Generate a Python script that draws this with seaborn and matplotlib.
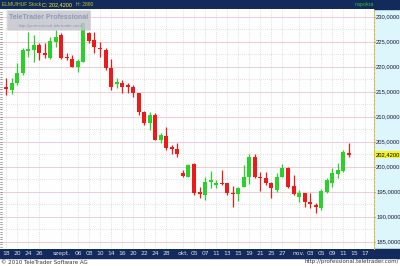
import numpy as np
import pandas as pd
import matplotlib
matplotlib.use("Agg")
import matplotlib.pyplot as plt
import seaborn as sns
from matplotlib.patches import Rectangle, FancyBboxPatch

# ---- data ----
opens = [215.9, 215.3, 216.8, 218.7, 223.2, 223.3, 224.3, 222.8, 221.7, 225.0,
         226.3, 222.0, 221.5, 219.9, 221.0, 226.7, 225.3, 223.8, 223.3, 219.7,
         216.5, 216.7, 216.3, 216.0, 214.7, 211.0, 208.7, 210.3, 205.3, 206.1,
         203.9, 203.5, 198.8, 198.0, 200.5, 195.0, 194.3, 197.0, 196.3, 196.8,
         196.7, 194.8, 194.5, 196.0, 198.0, 202.0, 198.0, 197.7, 196.8, 195.3,
         198.0, 199.7, 196.1, 194.0, 194.7, 193.0, 192.3, 191.7, 195.0, 196.8,
         198.5, 199.2, 202.8]
highs = [217.7, 217.8, 220.7, 223.7, 227.0, 226.3, 224.7, 224.8, 226.0, 227.3,
         226.8, 222.7, 222.3, 221.5, 229.0, 227.0, 227.0, 225.0, 223.7, 221.5,
         217.7, 217.3, 216.8, 216.3, 214.8, 211.1, 211.0, 210.7, 206.7, 208.0,
         204.3, 204.7, 199.3, 200.5, 200.8, 196.0, 198.0, 199.1, 197.3, 199.3,
         196.8, 196.1, 196.0, 200.3, 202.5, 202.5, 199.0, 199.0, 197.0, 198.7,
         200.5, 199.9, 198.3, 195.3, 194.8, 194.8, 192.8, 195.5, 197.7, 199.7,
         200.7, 203.3, 204.7]
lows = [214.3, 214.5, 216.3, 218.3, 222.0, 221.0, 221.3, 221.7, 221.5, 224.0,
        221.5, 221.3, 220.0, 219.0, 221.0, 224.7, 222.7, 222.0, 219.3, 215.3,
        215.7, 214.8, 214.7, 214.0, 210.3, 208.3, 207.3, 205.3, 204.8, 203.3,
        202.5, 202.0, 198.0, 198.0, 194.3, 193.7, 193.3, 195.8, 195.7, 196.3,
        194.3, 192.0, 193.2, 195.9, 196.5, 197.7, 195.2, 196.3, 193.7, 195.0,
        197.9, 195.7, 194.3, 193.0, 192.0, 191.7, 190.8, 191.3, 194.8, 196.0,
        197.7, 199.0, 201.9]
closes = [215.5, 216.8, 218.8, 223.3, 223.5, 224.3, 222.8, 222.3, 225.2, 226.0,
          221.7, 221.7, 220.0, 221.2, 228.7, 225.2, 224.0, 223.5, 219.7, 216.0,
          217.0, 216.0, 216.0, 214.8, 211.0, 208.7, 210.3, 205.3, 206.3, 203.7,
          203.5, 202.5, 198.1, 200.3, 194.8, 194.5, 197.0, 197.3, 196.8, 196.5,
          194.8, 194.5, 195.7, 198.0, 202.0, 198.0, 197.7, 196.8, 195.7, 198.0,
          199.7, 196.0, 194.5, 194.8, 193.0, 192.5, 192.0, 195.2, 197.3, 198.7,
          199.3, 203.0, 202.42]
tick_pos = [0, 2, 4, 6, 10, 13, 15, 17, 19, 21, 23, 25, 27, 29, 32, 34, 36, 38,
            40, 42, 44, 46, 48, 50, 53, 55, 57, 59, 61, 63, 65]
tick_labels = ["18", "20", "24", "26", "szept.", "06", "08", "10", "14", "16",
               "20", "22", "24", "28", "okt.", "05", "07", "11", "13", "15",
               "19", "21", "25", "27", "nov.", "03", "05", "09", "11", "15", "17"]
y_ticks = [185, 190, 195, 200, 205, 210, 215, 220, 225, 230]
last_price = 202.42

df = pd.DataFrame({"o": opens, "h": highs, "l": lows, "c": closes})
df["i"] = np.arange(len(df))
df["up"] = df["c"] >= df["o"]

sns.set_theme(style="white")
plt.rcParams["font.family"] = ["DejaVu Sans"]

W, H = 400, 266
fig = plt.figure(figsize=(4, 2.66), dpi=100)
fig.patch.set_facecolor("white")

def fx(px): return px / W
def fy(py): return 1 - py / H

ax_left, ax_right, ax_top, ax_bot = 0, 374, 9, 249
ax = fig.add_axes([fx(ax_left), fy(ax_bot), fx(ax_right - ax_left), (ax_bot - ax_top) / H])
ax.set_facecolor("#fdfefd")

# background decorations in figure coords (behind the axes)
fig.patches.append(Rectangle((fx(374), fy(249)), fx(26), (249 - 9) / H,
                             transform=fig.transFigure, color="#dcf6fb", zorder=-5))
fig.patches.append(Rectangle((0, fy(9)), 1, 9 / H, transform=fig.transFigure,
                             color="#132a5c", zorder=-5))
fig.patches.append(Rectangle((0, fy(258)), 1, 9 / H, transform=fig.transFigure,
                             color="#132a5c", zorder=-5))

ax.set_xlim(-1.085, 66.55)
ax.set_ylim(183.54, 231.54)

# grid
for v in np.arange(185, 231, 5):
    ax.axhline(v, color="#f0c4cc", lw=0.6, zorder=0)
for v in np.arange(187.5, 231, 5):
    ax.axhline(v, color="#c8c8c8", lw=0.5, ls=(0, (1, 2)), zorder=0)
for t in tick_pos:
    ax.axvline(t, color="#c4c4c4", lw=0.5, ls=(0, (1, 2)), zorder=0)

green, red = "#2bd12b", "#ee1a1a"
colors = np.where(df["up"], green, red)
ax.vlines(df["i"], df["l"], df["h"], colors=colors, lw=0.9, zorder=2)
body_lo = np.minimum(df["o"], df["c"])
body_h = np.maximum(np.abs(df["c"] - df["o"]), 0.25)
ax.bar(df["i"], body_h, bottom=body_lo, width=0.72, color=colors, lw=0, zorder=3)

# axes styling
for s in ["top", "left", "bottom"]:
    ax.spines[s].set_visible(False)
ax.spines["right"].set_color("#d8b840")
ax.spines["right"].set_linestyle((0, (2, 1.5)))
ax.spines["right"].set_linewidth(0.8)

ax.yaxis.tick_right()
ax.set_yticks(y_ticks)
ax.set_yticklabels([f"{v:.4f}".replace(".", ",") for v in y_ticks],
                   family="Liberation Sans")
ax.tick_params(axis="y", right=True, length=1.0, width=0.5, color="#333333",
               pad=0.5, labelsize=4.2, labelcolor="#1a1a40")
ax.set_xticks(tick_pos)
ax.set_xticklabels(tick_labels)
ax.tick_params(axis="x", bottom=False, length=0, pad=1.6, labelsize=4.3,
               labelcolor="#dcdce6")

# left edge small ticks
for v in np.arange(184, 231.5, 0.5):
    ax.plot([-1.085, -0.75], [v, v], color="#555555", lw=0.4, zorder=1, clip_on=False)

# current price label
ax.text(1.004, last_price, "202,4200", transform=ax.get_yaxis_transform(),
        fontsize=4.2, family="Liberation Sans", color="black", va="center", ha="left",
        bbox=dict(boxstyle="square,pad=0.15", fc="#f6f620", ec="none"), zorder=5,
        clip_on=False)

# watermark
fig.patches.append(FancyBboxPatch((fx(8), fy(30)), fx(82), 19 / H,
                                  boxstyle="round,pad=0.002", transform=fig.transFigure,
                                  fc="#c4c6cc", ec="none", alpha=0.85, zorder=4))
fig.text(fx(49), fy(17.5), "TeleTrader Professional", fontsize=5.0,
         family="Liberation Sans", color="#8e9ab8",
         ha="center", va="center", fontweight="bold", zorder=5)
fig.text(fx(51), fy(25.5), "http://professional.teletrader.com/", fontsize=3.2,
         family="Liberation Sans", color="#8e9ab8", ha="center", va="center", zorder=5)

# top bar text
fig.text(fx(2), fy(4.5), "ELMU/HUF Stock", fontsize=3.6, color="#b8c828",
         family="Liberation Sans", ha="left", va="center")
fig.text(fx(42), fy(4.5), "C: 202,4200", fontsize=4.0, color="#f0f020",
         family="Liberation Sans", ha="left", va="center")
fig.text(fx(76), fy(4.5), "H: 2880", fontsize=3.6, color="#b8c828",
         family="Liberation Sans", ha="left", va="center")
fig.text(fx(364), fy(4.5), "napokra", fontsize=3.8, color="#30c030",
         family="Liberation Sans", ha="center", va="center")

# footer
fig.text(fx(1), fy(262), "\u00a9 2010 TeleTrader Software AG", fontsize=4.0,
         color="#333333", ha="left", va="center")
fig.text(fx(399), fy(262), "http://professional.teletrader.com/", fontsize=4.0,
         color="#333333", ha="right", va="center")

fig.savefig("out.png", dpi=100)
